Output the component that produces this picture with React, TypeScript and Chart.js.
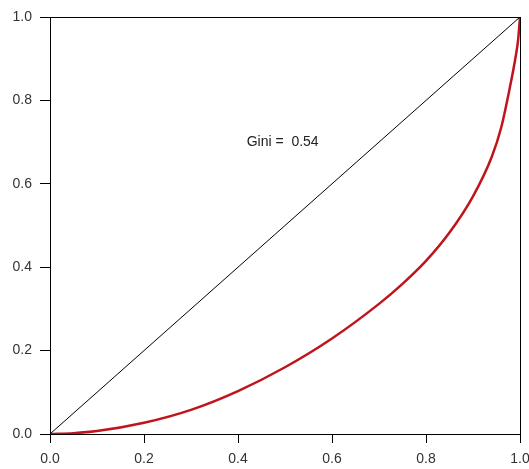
import React, { useEffect, useRef } from "react";
import { Chart, registerables } from "chart.js";

Chart.register(...registerables);

const lorenzX = [0, 0.05, 0.1, 0.2, 0.3, 0.4, 0.5, 0.6, 0.7, 0.75, 0.8, 0.85, 0.9, 0.94, 0.96, 0.98, 0.99, 0.996, 1];
const lorenzY = [0, 0.002, 0.007, 0.027, 0.058, 0.103, 0.16, 0.229, 0.312, 0.36, 0.415, 0.483, 0.57, 0.665, 0.735, 0.84, 0.9, 0.945, 1];
const diagX = [0, 1];
const diagY = [0, 1];
const tickValues = [0, 0.2, 0.4, 0.6, 0.8, 1.0];
const giniLabel = "Gini =  0.54";
const giniPos = { x: 0.495, y: 0.7 };

const FONT = "'Liberation Sans', Arial, sans-serif";

export default function App() {
  const canvasRef = useRef<HTMLCanvasElement | null>(null);

  useEffect(() => {
    const canvas = canvasRef.current;
    if (!canvas) return;

    const framePlugin = {
      id: "frame",
      afterDraw(chart: any) {
        const { ctx, chartArea } = chart;
        ctx.save();
        ctx.strokeStyle = "#000";
        ctx.lineWidth = 1;
        ctx.strokeRect(chartArea.left + 0.5, chartArea.top + 0.5, chartArea.right - chartArea.left, chartArea.bottom - chartArea.top);
        const xs = chart.scales.x;
        const ys = chart.scales.y;
        ctx.fillStyle = "#222";
        ctx.font = `14px ${FONT}`;
        ctx.textAlign = "center";
        ctx.textBaseline = "middle";
        ctx.fillText(giniLabel, xs.getPixelForValue(giniPos.x), ys.getPixelForValue(giniPos.y));
        ctx.restore();
      },
    };

    const chart = new Chart(canvas, {
      type: "line",
      data: {
        datasets: [
          {
            data: diagX.map((x, i) => ({ x, y: diagY[i] })),
            borderColor: "#000",
            borderWidth: 1,
            pointRadius: 0,
            tension: 0,
          },
          {
            data: lorenzX.map((x, i) => ({ x, y: lorenzY[i] })),
            borderColor: "#c0141c",
            borderWidth: 2.5,
            pointRadius: 0,
            cubicInterpolationMode: "monotone",
          },
        ],
      },
      options: {
        animation: false,
        responsive: false,
        maintainAspectRatio: false,
        layout: { padding: { top: 17, right: 9, left: 0, bottom: 0 } },
        plugins: { legend: { display: false }, tooltip: { enabled: false } },
        scales: {
          x: {
            type: "linear",
            min: 0,
            max: 1,
            afterBuildTicks(scale: any) {
              scale.ticks = tickValues.map((v) => ({ value: v }));
            },
            afterFit(scale: any) {
              scale.height = 35;
              scale.paddingLeft = 0;
              scale.paddingRight = 0;
            },
            grid: { drawOnChartArea: false, drawTicks: true, tickLength: 9, color: "#000" },
            border: { display: true, color: "#000" },
            ticks: {
              color: "#333",
              font: { family: FONT, size: 14 },
              padding: 8,
              maxRotation: 0,
              callback: (v: any) => Number(v).toFixed(1),
            },
          },
          y: {
            type: "linear",
            min: 0,
            max: 1,
            afterBuildTicks(scale: any) {
              scale.ticks = tickValues.map((v) => ({ value: v }));
            },
            afterFit(scale: any) {
              scale.width = 50;
              scale.paddingTop = 0;
              scale.paddingBottom = 0;
            },
            grid: { drawOnChartArea: false, drawTicks: true, tickLength: 10, color: "#000" },
            border: { display: true, color: "#000" },
            ticks: {
              color: "#333",
              font: { family: FONT, size: 14 },
              padding: 8,
              callback: (v: any) => Number(v).toFixed(1),
            },
          },
        },
      },
      plugins: [framePlugin],
    } as any);

    return () => chart.destroy();
  }, []);

  return (
    <div style={{ position: "fixed", left: 0, top: 0, width: 529, height: 469, background: "#fff" }}>
      <canvas ref={canvasRef} width={529} height={469} style={{ width: 529, height: 469, display: "block" }} />
    </div>
  );
}
